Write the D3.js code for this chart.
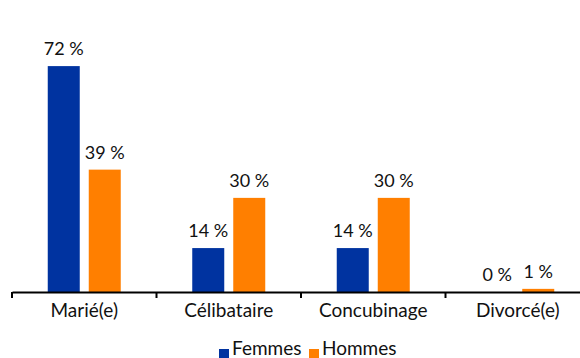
<!DOCTYPE html>
<html>
<head>
<meta charset="utf-8">
<script src="https://cdn.jsdelivr.net/npm/d3@7"></script>
<style>
  html, body { margin: 0; padding: 0; background: #fff; }
  svg { display: block; font-family: Lato, "Open Sans", sans-serif; }
</style>
</head>
<body>
<svg id="chart" width="580" height="358"></svg>
<script>
// Situation familiale par sexe (en %)
const categories = ["Marié(e)", "Célibataire", "Concubinage", "Divorcé(e)"];
const series = ["Femmes", "Hommes"];
const femmes = [72, 14, 14, 0];
const hommes = [39, 30, 30, 1];
const colors = ["#0033a0", "#ff7f00"];

const svg = d3.select("#chart");
const baseY = 292;

const x = d3.scaleBand().domain(categories).range([12, 590]);
const xs = d3.scaleBand().domain(series)
  .range([(x.bandwidth() - 73) / 2, (x.bandwidth() + 73) / 2])
  .paddingInner(9 / 41);
const y = d3.scaleLinear().domain([0, 80]).range([baseY, 41]);
const color = d3.scaleOrdinal().domain(series).range(colors);

const rows = categories.map((c, i) => ({ cat: c, vals: [femmes[i], hommes[i]] }));

const groups = svg.append("g").selectAll("g")
  .data(rows).join("g")
  .attr("transform", d => `translate(${x(d.cat)},0)`);

groups.selectAll("rect")
  .data(d => series.map((s, j) => ({ s, v: d.vals[j] })))
  .join("rect")
  .attr("x", d => xs(d.s))
  .attr("width", xs.bandwidth())
  .attr("y", d => y(d.v))
  .attr("height", d => baseY - y(d.v))
  .attr("fill", d => color(d.s));

groups.selectAll("text")
  .data(d => series.map((s, j) => ({ s, v: d.vals[j] })))
  .join("text")
  .attr("x", d => xs(d.s) + xs.bandwidth() / 2)
  .attr("y", d => y(d.v) - 11)
  .attr("text-anchor", "middle")
  .attr("font-size", 18)
  .attr("fill", "#111")
  .text(d => `${d.v} %`);

// Category axis
const axis = svg.append("g")
  .attr("transform", `translate(0,${baseY})`)
  .call(d3.axisBottom(x).tickSize(0).tickPadding(0));
axis.select(".domain").attr("stroke", "#000").attr("stroke-width", 2);
axis.selectAll(".tick text")
  .attr("dy", null)
  .attr("y", 25)
  .attr("font-size", 19).attr("fill", "#111")
  .attr("font-family", "Lato, 'Open Sans', sans-serif");

// Category separators
axis.selectAll("line.sep")
  .data(categories)
  .join("line")
  .attr("class", "sep")
  .attr("x1", d => x(d)).attr("x2", d => x(d))
  .attr("y1", 0).attr("y2", 6)
  .attr("stroke", "#000").attr("stroke-width", 2);

// Legend
const legend = svg.append("g").attr("transform", "translate(219,355)");
const items = [{ s: "Femmes", dx: 0 }, { s: "Hommes", dx: 90 }];
const li = legend.selectAll("g").data(items).join("g")
  .attr("transform", d => `translate(${d.dx},0)`);
li.append("rect").attr("x", 0).attr("y", -6).attr("width", 10).attr("height", 10)
  .attr("fill", d => color(d.s));
li.append("text").attr("x", 13).attr("y", 0).attr("font-size", 19).attr("fill", "#111")
  .text(d => d.s);
</script>
</body>
</html>
